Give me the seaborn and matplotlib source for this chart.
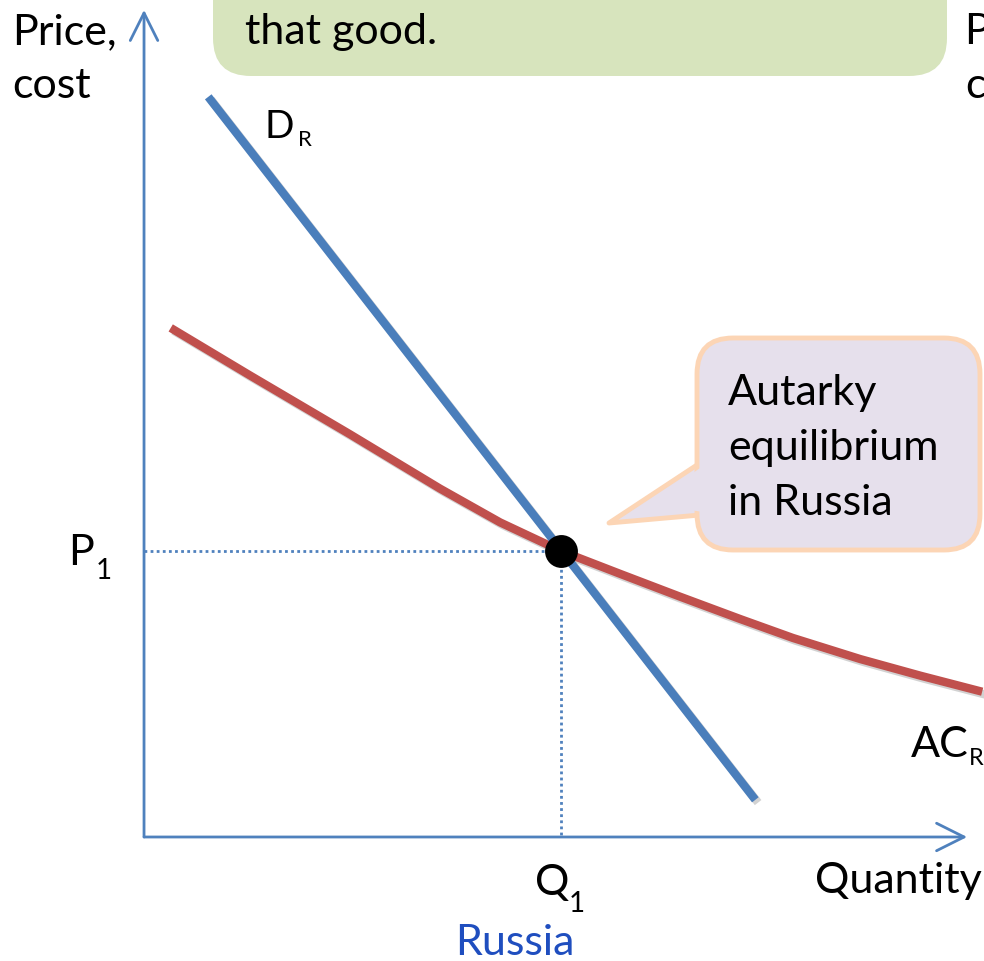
import matplotlib
matplotlib.use("Agg")
import matplotlib.pyplot as plt
import matplotlib.patheffects as pe
from matplotlib.patches import FancyBboxPatch, Polygon
import seaborn as sns
import pandas as pd

W, H = 984, 961

# Russia: demand and average cost (quantity, price units)
demand_q = [0.77, 7.33]
demand_p = [12.94, 0.65]

ac_q = [0.32, 1.27, 2.47, 3.55, 4.27, 5.0, 5.71, 6.43, 7.15, 7.78, 8.59, 9.31, 10.05]
ac_p = [8.90, 8.07, 7.04, 6.09, 5.50, 5.0, 4.60, 4.20, 3.81, 3.48, 3.11, 2.82, 2.54]

q1 = 5.0
p1 = 5.0

q_max = 9.87
p_max = 14.46

callout_lines = ["Autarky", "equilibrium", "in Russia"]
banner_text = "that good."

AXIS_BLUE = "#4F81BD"
DEMAND_BLUE = "#4A7EBB"
AC_RED = "#C0504D"


def label(ax, px, py, s, size, color="black", **kw):
    # place text using pixel positions of the slide
    ax.text(px, py, s, fontsize=size, color=color, ha="left", va="baseline", **kw)


def autarky_chart():
    sns.set_theme(style="white")
    plt.rcParams["font.family"] = ["Lato", "DejaVu Sans"]

    fig = plt.figure(figsize=(W / 100, H / 100), dpi=100)
    ax = fig.add_axes([0, 0, 1, 1])
    ax.axis("off")

    shadow = [pe.SimpleLineShadow(offset=(2, -2), shadow_color="gray", alpha=0.35), pe.Normal()]

    # axes with open arrow heads
    arrow = dict(arrowstyle="->,head_length=0.9,head_width=0.45", color=AXIS_BLUE,
                 lw=2, mutation_scale=22, shrinkA=0, shrinkB=0)
    ax.annotate("", xy=(0, p_max), xytext=(0, 0), arrowprops=arrow)
    ax.annotate("", xy=(q_max, 0), xytext=(0, 0), arrowprops=arrow)

    # dotted guides
    ax.plot([0, q1], [p1, p1], color=AXIS_BLUE, lw=2, ls=(0, (1, 1.2)))
    ax.plot([q1, q1], [p1, 0], color=AXIS_BLUE, lw=2, ls=(0, (1, 1.2)))

    df_d = pd.DataFrame({"q": demand_q, "p": demand_p})
    df_ac = pd.DataFrame({"q": ac_q, "p": ac_p})
    sns.lineplot(data=df_ac, x="q", y="p", sort=False, color=AC_RED, lw=6, ax=ax,
                 path_effects=shadow, solid_capstyle="butt", solid_joinstyle="round")
    sns.lineplot(data=df_d, x="q", y="p", sort=False, color=DEMAND_BLUE, lw=6, ax=ax,
                 path_effects=shadow, solid_capstyle="butt")
    sns.scatterplot(x=[q1], y=[p1], s=480, color="black", edgecolor="black", ax=ax, zorder=5)
    ax.set_xlim(-1.727, 10.072)
    ax.set_ylim(-2.168, 14.633)

    # decoration layer in slide pixels
    deco = fig.add_axes([0, 0, 1, 1], facecolor="none")
    deco.set_xlim(0, W)
    deco.set_ylim(H, 0)
    deco.axis("off")

    banner = FancyBboxPatch((213, -80), 734, 156, boxstyle="round,pad=0,rounding_size=38",
                            fc="#D7E4BD", ec="none")
    deco.add_patch(banner)
    label(deco, 245, 44, banner_text, 31)

    # callout bubble
    tail = Polygon([(700, 463), (609, 523), (700, 515)], closed=True,
                   fc="#E6E0EC", ec="#FCD5B5", lw=3.5, joinstyle="round")
    deco.add_patch(tail)
    bubble = FancyBboxPatch((697, 338), 283, 212, boxstyle="round,pad=0,rounding_size=36",
                            fc="#E6E0EC", ec="#FCD5B5", lw=3.5)
    deco.add_patch(bubble)
    cover = Polygon([(703, 466), (690, 475), (690, 510), (703, 512)], closed=True,
                    fc="#E6E0EC", ec="none", zorder=3)
    deco.add_patch(cover)
    for i, line in enumerate(callout_lines):
        label(deco, 728, 405 + i * 55, line, 31)

    label(deco, 12, 44, "Price,", 31)
    label(deco, 12, 98, "cost", 31)
    # start of the next panel's axis label, cut by the slide edge
    label(deco, 964, 44, "P", 31)
    label(deco, 965, 98, "c", 31)

    label(deco, 264, 138, "D", 28)
    label(deco, 298, 146, "R", 16)

    label(deco, 68, 565, "P", 31)
    label(deco, 96, 579, "1", 20)

    label(deco, 535, 895, "Q", 31)
    label(deco, 569, 912, "1", 20)
    label(deco, 455, 955, "Russia", 31, color="#1F4EBF")

    label(deco, 815, 893, "Quantity", 31)

    label(deco, 911, 757, "AC", 31)
    label(deco, 969, 765, "R", 17)

    fig.savefig("out.png", dpi=100)


if __name__ == "__main__":
    autarky_chart()
